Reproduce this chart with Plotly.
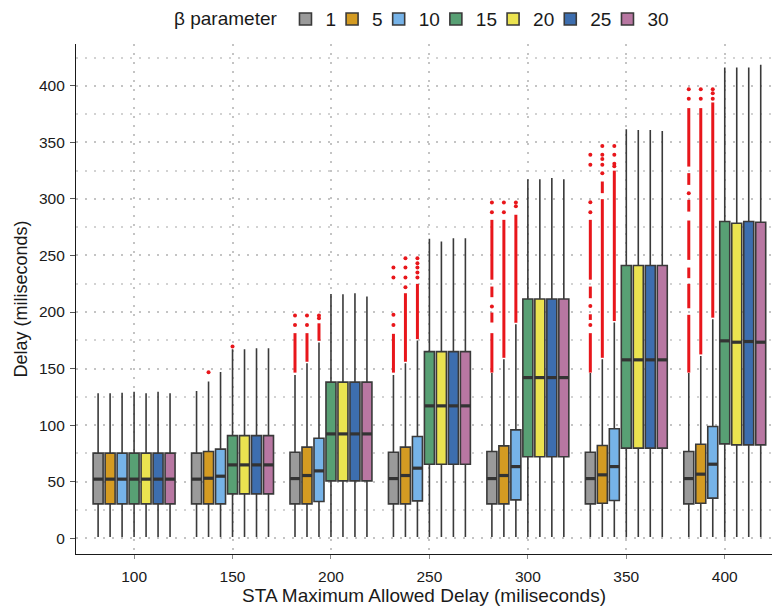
#Data visualization
import plotly.graph_objs as go

#Input data
delays = ['100', '150', '200', '250', '300', '350', '400']
betas = [1, 5, 10, 15, 20, 25, 30]
colors = ['#9a9a9a', '#d49b22', '#76b3e8', '#58a074', '#ebe350', '#3d6eaf', '#b877a2']

#box statistics, one row per beta, one column per delay
q1 = [
    [30.3, 30.3, 30.3, 30.3, 30.3, 30.3, 30.3],
    [30.3, 30.3, 30.3, 30.3, 30.3, 30.9, 30.9],
    [30.3, 30.3, 32.4, 33.0, 33.9, 33.3, 35.4],
    [30.3, 39.2, 50.7, 65.4, 72.0, 79.6, 83.4],
    [30.3, 39.2, 50.7, 65.4, 72.0, 79.6, 82.5],
    [30.3, 39.2, 50.7, 65.4, 72.0, 79.6, 82.5],
    [30.3, 39.2, 50.7, 65.4, 72.0, 79.6, 82.5],
]
median = [
    [52.2, 52.2, 52.7, 52.7, 52.7, 52.7, 52.7],
    [52.2, 53.0, 55.4, 55.4, 55.4, 56.0, 56.6],
    [52.2, 54.8, 59.5, 61.9, 63.3, 63.3, 65.4],
    [52.2, 64.8, 92.2, 117.0, 142.0, 157.7, 174.5],
    [52.2, 64.8, 92.2, 117.0, 142.0, 157.7, 173.3],
    [52.2, 64.8, 92.2, 117.0, 142.0, 157.7, 173.9],
    [52.2, 64.8, 92.2, 117.0, 142.0, 157.7, 173.3],
]
q3 = [
    [75.2, 75.2, 76.0, 76.0, 76.6, 76.0, 76.6],
    [75.2, 76.6, 80.5, 80.5, 81.6, 81.9, 83.1],
    [75.2, 78.7, 88.4, 89.9, 95.8, 96.7, 98.7],
    [75.2, 90.7, 138.0, 165.0, 211.5, 241.1, 280.0],
    [75.2, 90.7, 138.0, 165.0, 211.5, 241.1, 278.5],
    [75.2, 90.7, 138.0, 165.0, 211.5, 241.1, 280.0],
    [75.2, 90.7, 138.0, 165.0, 211.5, 241.1, 279.4],
]
upper = [
    [128.2, 130.2, 144.4, 144.4, 146.0, 146.0, 146.0],
    [128.2, 138.5, 154.7, 154.7, 158.3, 158.3, 161.2],
    [128.7, 147.0, 173.0, 174.7, 189.2, 190.7, 193.7],
    [129.4, 167.0, 216.0, 264.7, 317.5, 361.7, 416.2],
    [128.2, 167.0, 215.7, 262.3, 317.5, 361.0, 416.2],
    [129.4, 168.0, 216.6, 265.3, 318.4, 361.0, 416.2],
    [128.2, 168.0, 213.7, 265.3, 317.5, 360.0, 418.6],
]
lower = [
    [1.0] * 7, [1.0] * 7, [1.0] * 7, [1.0] * 7, [1.0] * 7, [1.0] * 7, [1.0] * 7,
]

#outliers: dense runs (delay, beta, from, to) and single points (delay, beta, value)
outlier_runs = [
    ('200', 1, 146.4, 181.3), ('200', 5, 156.0, 181.3), ('200', 10, 174.5, 190.0),
    ('250', 1, 146.4, 180.7), ('250', 5, 156.0, 216.6), ('250', 10, 176.0, 224.9),
    ('300', 1, 146.4, 181.3), ('300', 1, 190.7, 199.5), ('300', 1, 213.1, 222.5),
    ('300', 1, 228.6, 281.5), ('300', 5, 159.5, 281.5), ('300', 10, 190.5, 286.0),
    ('350', 1, 146.4, 181.3), ('350', 1, 193.0, 198.0), ('350', 1, 212.2, 222.5),
    ('350', 1, 228.6, 281.5), ('350', 5, 159.5, 299.8), ('350', 5, 305.1, 315.4),
    ('350', 10, 192.0, 325.0),
    ('400', 1, 146.4, 197.5), ('400', 1, 203.3, 224.9), ('400', 1, 229.9, 239.3),
    ('400', 1, 246.1, 280.9), ('400', 1, 288.8, 299.2), ('400', 1, 312.4, 322.8),
    ('400', 1, 328.6, 380.3), ('400', 5, 162.5, 380.3), ('400', 10, 195.0, 385.3),
]
outlier_points = [
    ('150', 5, 146.8), ('150', 15, 169.5),
    ('200', 1, 188.4), ('200', 1, 196.9), ('200', 5, 188.4), ('200', 5, 196.9),
    ('200', 10, 194.5), ('200', 10, 197.0),
    ('250', 1, 188.6), ('250', 1, 197.5), ('250', 1, 230.5), ('250', 1, 239.3),
    ('250', 5, 222.0), ('250', 5, 230.5), ('250', 5, 239.3), ('250', 5, 247.6),
    ('250', 10, 230.5), ('250', 10, 235.0), ('250', 10, 239.3), ('250', 10, 243.2), ('250', 10, 247.6),
    ('300', 1, 204.8), ('300', 1, 288.3), ('300', 1, 296.8),
    ('300', 5, 288.3), ('300', 5, 296.8), ('300', 10, 293.5), ('300', 10, 296.8),
    ('350', 1, 188.6), ('350', 1, 205.4), ('350', 1, 288.3), ('350', 1, 297.1), ('350', 1, 330.2), ('350', 1, 339.0),
    ('350', 5, 322.8), ('350', 5, 330.2), ('350', 5, 335.4), ('350', 5, 339.0), ('350', 5, 346.9),
    ('350', 10, 329.0), ('350', 10, 331.0), ('350', 10, 339.0), ('350', 10, 346.9),
    ('400', 1, 305.1), ('400', 1, 388.5), ('400', 1, 397.0),
    ('400', 5, 388.5), ('400', 5, 397.0),
    ('400', 10, 388.5), ('400', 10, 393.5), ('400', 10, 397.0),
]

#Dodge positions (7 boxes per delay)
slot = 0.1218
box_w = 0.1015

def xpos(delay, beta):
    return delays.index(delay) + (betas.index(beta) - 3) * slot

#Declare figure
fig = go.Figure()

for j, b in enumerate(betas):
    xs = [i + (j - 3) * slot for i in range(len(delays))]
    #tighter legend entries, closer to the ggplot key (last one keeps its full width)
    lw = len(str(b)) * 10.6 + (2 if j == len(betas) - 1 else -9)
    fig.add_trace(
        go.Box(
            x=xs,
            q1=q1[j], median=median[j], q3=q3[j],
            lowerfence=lower[j], upperfence=upper[j],
            width=box_w,
            whiskerwidth=0,
            fillcolor=colors[j],
            line=dict(color='#3a3a3a', width=1.6),
            boxpoints=False,
            name=str(b),
            legendwidth=lw,
            hoverinfo='skip',
        )
    )
    #thicker median bar, as in ggplot
    mx, my = [], []
    for i, x in enumerate(xs):
        mx += [x - box_w / 2, x + box_w / 2, None]
        my += [median[j][i], median[j][i], None]
    fig.add_trace(
        go.Scatter(x=mx, y=my, mode='lines', line=dict(color='#333333', width=3.2),
                   showlegend=False, hoverinfo='skip')
    )

#Outliers
rx, ry = [], []
for d, b, lo, hi in outlier_runs:
    x = xpos(d, b)
    rx += [x, x, None]
    ry += [lo, hi, None]
fig.add_trace(
    go.Scatter(x=rx, y=ry, mode='lines', line=dict(color='#e8161b', width=3),
               showlegend=False, hoverinfo='skip')
)
fig.add_trace(
    go.Scatter(
        x=[xpos(d, b) for d, b, v in outlier_points],
        y=[v for d, b, v in outlier_points],
        mode='markers',
        marker=dict(color='#e8161b', size=4),
        showlegend=False, hoverinfo='skip',
    )
)

grid = dict(showgrid=True, gridcolor='#c4c4c4', griddash='1.5px,7.5px', gridwidth=1.5)

fig.update_layout(
    width=772, height=612,
    margin=dict(l=76, r=0, t=44, b=58),
    paper_bgcolor='white', plot_bgcolor='white',
    font=dict(family='Liberation Sans, Arial, sans-serif', size=15.5, color='#1a1a1a'),
    boxmode='overlay',
    showlegend=True,
    legend=dict(
        orientation='h', x=0.5, xanchor='center', y=1.086, yanchor='top',
        title=dict(text='β parameter', font=dict(size=19)),
        font=dict(size=19), itemwidth=30, tracegroupgap=0,
    ),
    xaxis=dict(
        range=[-0.59, 6.48],
        tickmode='array', tickvals=list(range(len(delays))), ticktext=delays,
        showline=True, linecolor='#1a1a1a', linewidth=1.2,
        ticks='outside', ticklen=4, tickcolor='#888888', ticklabelstandoff=4,
        zeroline=False,
        title=dict(text='STA Maximum Allowed Delay (miliseconds)', font=dict(size=19), standoff=2),
        **grid,
    ),
    yaxis=dict(
        range=[-14, 437],
        tickmode='array', tickvals=list(range(0, 401, 50)),
        showline=True, linecolor='#1a1a1a', linewidth=1.2,
        ticks='outside', ticklen=5, tickcolor='#555555', ticklabelstandoff=2,
        zeroline=False,
        minor=dict(tickvals=list(range(25, 451, 50)), showgrid=True,
                   gridcolor='#d2d2d2', griddash='1.5px,7.5px', gridwidth=1.5, ticks=''),
        title=dict(text='Delay (miliseconds)', font=dict(size=18), standoff=6),
        **grid,
    ),
)

#Show (drop the page's default body margin so the figure sits at 0,0)
fig.write_html('out.html', config={'displayModeBar': False},
               post_script="document.body.style.margin='0';")
